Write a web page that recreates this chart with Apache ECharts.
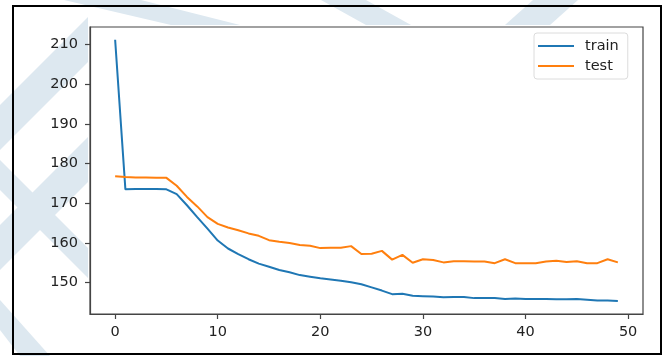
<!DOCTYPE html>
<html>
<head>
<meta charset="utf-8">
<script src="https://cdn.jsdelivr.net/npm/echarts@6/dist/echarts.min.js"></script>
<style>html,body{margin:0;padding:0;background:#fff;}#c{width:667px;height:356px;}</style>
</head>
<body>
<div id="c"></div>
<script>
const seriesNames = ['train', 'test'];
const train = [211.2,173.5,173.6,173.6,173.6,173.5,172.3,169.5,166.5,163.6,160.6,158.6,157.2,155.9,154.8,154.0,153.2,152.6,151.9,151.5,151.1,150.8,150.5,150.1,149.6,148.8,148.0,147.1,147.2,146.7,146.6,146.5,146.3,146.4,146.4,146.1,146.1,146.1,145.9,146.0,145.9,145.9,145.9,145.8,145.8,145.9,145.7,145.5,145.5,145.4];
const test = [176.8,176.6,176.5,176.5,176.4,176.4,174.4,171.6,169.2,166.5,164.8,163.9,163.2,162.4,161.8,160.7,160.3,160.0,159.5,159.3,158.7,158.8,158.8,159.2,157.2,157.3,158.0,155.8,157.0,155.0,155.9,155.7,155.1,155.4,155.4,155.3,155.3,154.9,155.9,154.9,154.9,154.9,155.3,155.5,155.2,155.4,154.9,154.9,155.9,155.1];
const xTicks = [0, 10, 20, 30, 40, 50];
const yTicks = [150, 160, 170, 180, 190, 200, 210];

const toPairs = arr => arr.map((v, i) => [i, v]);
const wm = '#dde8f0';
const band = (pts) => ({ type: 'polygon', silent: true, shape: { points: pts }, style: { fill: wm } });

const chart = echarts.init(document.getElementById('c'), null, { renderer: 'canvas' });
chart.setOption({
  animation: false,
  backgroundColor: '#fff',
  graphic: {
    elements: [
      band([[0,150],[0,105],[88,17],[88,62]]),
      band([[0,270],[0,225],[88,137],[88,182]]),
      band([[0,190],[0,160],[88,248],[88,278]]),
      band([[0,330],[0,300],[50,356],[20,356]]),
      band([[64,0],[141,0],[240,25],[171,25]]),
      band([[321,0],[366,0],[411,25],[366,25]]),
      band([[505,25],[550,25],[578,0],[533,0]]),
      { type: 'rect', silent: true, shape: { x: 13, y: 6, width: 648, height: 348 }, style: { fill: 'none', stroke: '#000', lineWidth: 2 } }
    ]
  },
  grid: {
    left: 90, top: 27, right: 24, bottom: 42,
    show: true, borderColor: '#444', borderWidth: 1.2,
    containLabel: false, outerBoundsMode: 'none'
  },
  legend: {
    data: seriesNames,
    orient: 'vertical',
    left: 534, top: 33,
    backgroundColor: '#fff',
    borderColor: '#dcdcdc', borderWidth: 1, borderRadius: 3,
    padding: [5, 9, 5, 4],
    itemGap: 4,
    itemWidth: 36, itemHeight: 2,
    icon: 'rect',
    textStyle: { fontFamily: 'DejaVu Sans', fontSize: 14.5, color: '#222', lineHeight: 16, padding: [0, 0, 0, 6] }
  },
  xAxis: {
    type: 'value', min: -2.45, max: 51.45,
    splitLine: { show: false },
    axisLine: { show: true, onZero: false, lineStyle: { color: '#444', width: 1.2 } },
    axisTick: { show: true, length: 5, customValues: xTicks, lineStyle: { color: '#444', width: 1.2 } },
    axisLabel: { customValues: xTicks, margin: 11, fontFamily: 'DejaVu Sans', fontSize: 14.5, color: '#222' }
  },
  yAxis: {
    type: 'value', min: 142.1, max: 214.4,
    splitLine: { show: false },
    axisLine: { show: true, onZero: false, lineStyle: { color: '#444', width: 1.2 } },
    axisTick: { show: true, length: 5, customValues: yTicks, lineStyle: { color: '#444', width: 1.2 } },
    axisLabel: { customValues: yTicks, margin: 12, fontFamily: 'DejaVu Sans', fontSize: 14.5, color: '#222' }
  },
  series: [
    { name: seriesNames[0], type: 'line', data: toPairs(train), showSymbol: false, symbol: 'none', lineStyle: { color: '#1f77b4', width: 2 }, itemStyle: { color: '#1f77b4' } },
    { name: seriesNames[1], type: 'line', data: toPairs(test), showSymbol: false, symbol: 'none', lineStyle: { color: '#ff7f0e', width: 2 }, itemStyle: { color: '#ff7f0e' } }
  ]
});
</script>
</body>
</html>
